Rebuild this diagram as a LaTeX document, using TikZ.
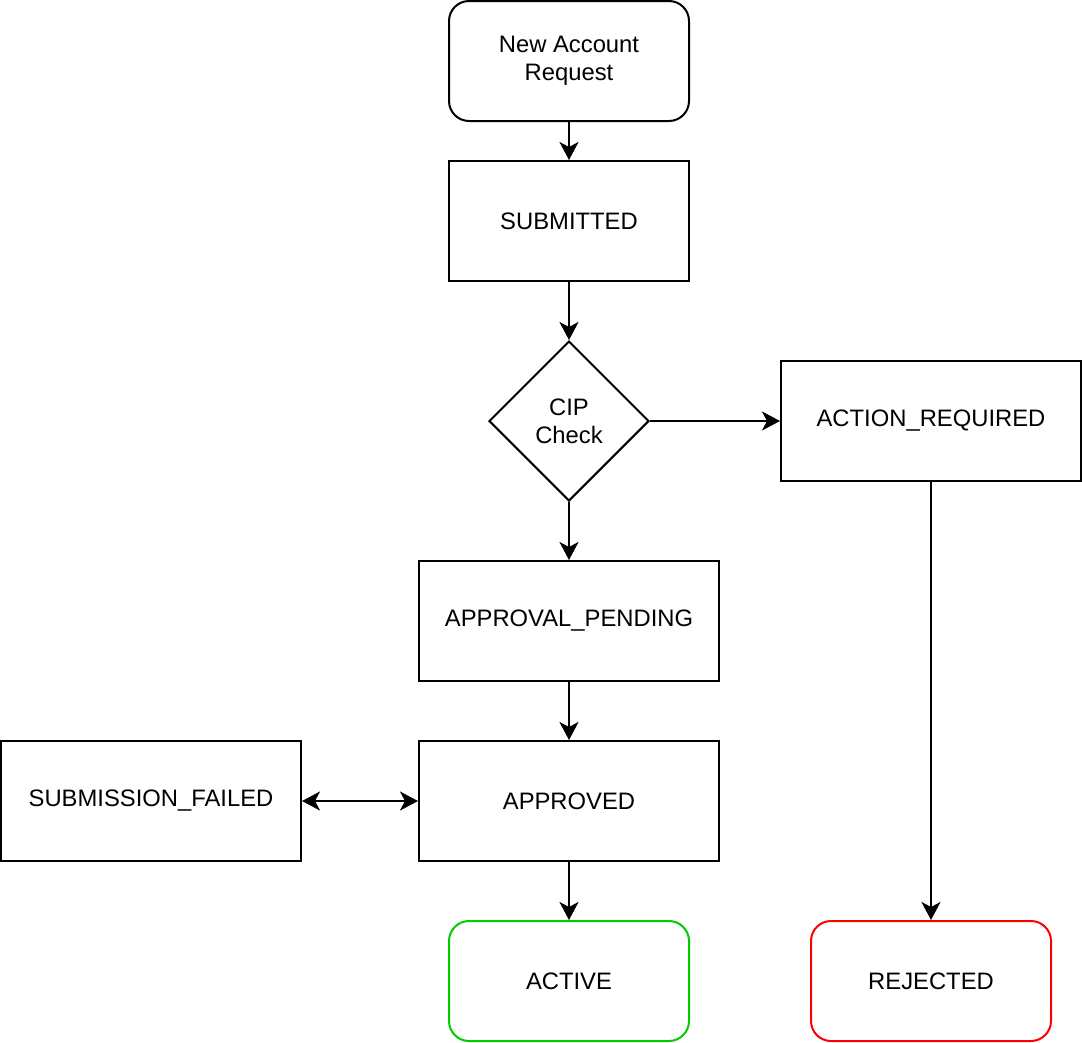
\documentclass[tikz,border=0pt]{standalone}
\usepackage{fontspec}
\setmainfont{Liberation Sans}
\usetikzlibrary{shapes.geometric,arrows.meta}
\definecolor{okgreen}{RGB}{0,204,0}
\definecolor{badred}{RGB}{255,0,0}
\begin{document}
\begin{tikzpicture}[x=1pt,y=-1pt,
  every node/.style={font=\fontsize{23.8}{28}\selectfont, align=center, line width=2pt},
  state/.style={draw, rectangle, minimum width=300pt, minimum height=120pt, inner sep=0pt},
  rstate/.style={draw, rectangle, rounded corners=20pt, minimum width=240pt, minimum height=120pt, inner sep=0pt},
  sstate/.style={draw, rectangle, minimum width=240pt, minimum height=120pt, inner sep=0pt},
  decide/.style={draw, diamond, minimum width=160pt, minimum height=160pt, inner sep=0pt, aspect=1},
  link/.style={line width=2pt, -{Stealth[length=18pt,width=19pt,inset=5pt]}},
  blink/.style={line width=2pt, {Stealth[length=18pt,width=19pt,inset=5pt]}-{Stealth[length=18pt,width=19pt,inset=5pt]}}
]
\useasboundingbox (0,0) rectangle (1082,1042);
\node[rstate] (new) at (569,61) {New Account\\Request};
\node[sstate] (sub) at (569,221) {SUBMITTED};
\node[decide] (cip) at (569,421) {CIP\\Check};
\node[state] (act) at (931,421) {ACTION\_REQUIRED};
\node[state] (pend) at (569,621) {APPROVAL\_PENDING};
\node[state] (appr) at (569,801) {APPROVED};
\node[state] (fail) at (151,801) {SUBMISSION\_FAILED};
\node[rstate, draw=okgreen] (active) at (569,981) {ACTIVE};
\node[rstate, draw=badred] (rej) at (931,981) {REJECTED};
\draw[link] (new) -- (sub);
\draw[link] (sub) -- (cip);
\draw[link] (cip) -- (act);
\draw[link] (cip) -- (pend);
\draw[link] (pend) -- (appr);
\draw[blink] (fail) -- (appr);
\draw[link] (appr) -- (active);
\draw[link] (act) -- (rej);
\end{tikzpicture}
\end{document}
